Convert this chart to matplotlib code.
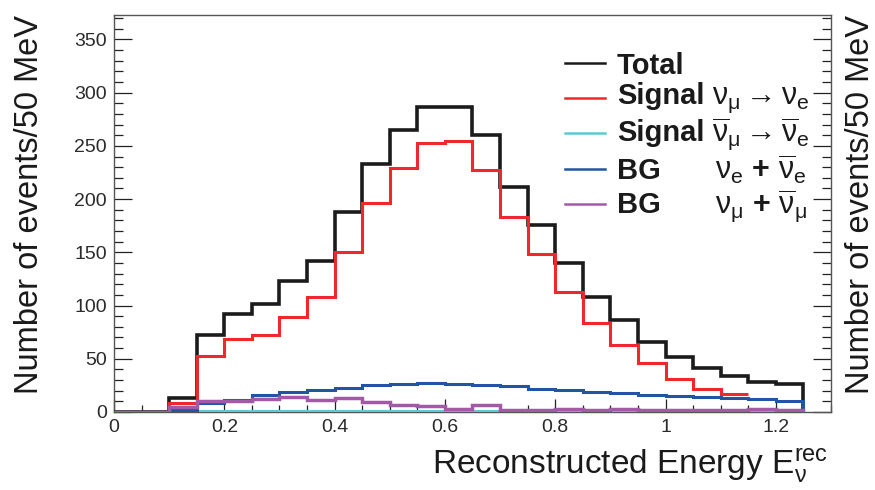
import numpy as np
import matplotlib
matplotlib.use('Agg')
from matplotlib import pyplot as plt
from matplotlib.ticker import MultipleLocator, FormatStrFormatter

plt.rcParams['font.family'] = ['Liberation Sans', 'DejaVu Sans']
plt.rcParams['mathtext.fontset'] = 'custom'
plt.rcParams['mathtext.rm'] = 'Liberation Sans'
plt.rcParams['mathtext.it'] = 'Liberation Sans:italic'
plt.rcParams['mathtext.bf'] = 'Liberation Sans:bold'

# 50 MeV bins, 0 - 1.25 GeV
bin_width = 0.05
edges = np.round(np.arange(0, 1.25 + bin_width / 2, bin_width), 3)

total = [0, 0, 13, 72, 92, 101, 123, 142, 188, 233, 265, 287, 287,
         260, 211, 176, 140, 108, 86, 66, 52, 41, 34, 28, 26]
# nu_mu -> nu_e signal stops at 1.15 GeV
sig_nue = [0, 0, 8, 53, 69, 72, 89, 108, 150, 196, 229, 253, 255,
           227, 183, 148, 113, 84, 63, 46, 31, 22, 17]
sig_nuebar = [0, 0, 0, 0.6, 0.6, 0.6, 0.6, 0.6, 0.6, 0.6, 0.6, 0.6, 0.6,
              0.6, 0.6, 0.6, 0.6, 0.6, 0.6, 0.6, 0.6, 0.6, 0.6, 0.6, 0.6]
bg_nue = [0, 0, 1.5, 8, 11, 15.5, 18.5, 21, 23, 25, 26.5, 27, 26,
          25, 24, 22, 20.5, 19, 17.5, 16, 15, 14, 13, 12, 10.5]
bg_numu = [0, 0, 4.5, 10.5, 10.5, 12.5, 14.5, 11.5, 13, 9.5, 7, 6, 3,
           6.5, 2, 2, 2.5, 1.5, 2.5, 1.5, 1.5, 1.5, 1.5, 2.5, 1.5]

c_total = '#1b1b1b'
c_sig = '#f0282d'
c_sigbar = '#5fc9d5'
c_bge = '#2155a3'
c_bgmu = '#a25aa6'

fig = plt.figure(figsize=(8.75, 4.9), dpi=100)
ax = fig.add_axes([0.1303, 0.1592, 0.8194, 0.8102])

ax.stairs(total, edges, baseline=0, color=c_total, lw=2.6, zorder=3)
ax.stairs(sig_nue, edges[:len(sig_nue) + 1], baseline=None, color=c_sig, lw=2.2, zorder=4)
ax.stairs(sig_nuebar, edges, baseline=0, color=c_sigbar, lw=2.2, zorder=5)
ax.stairs(bg_nue, edges, baseline=0, color=c_bge, lw=2.2, zorder=6)
ax.stairs(bg_numu, edges, baseline=0, color=c_bgmu, lw=2.5, zorder=7)

ax.set_xlim(0, 1.3)
ax.set_ylim(0, 373)
ax.xaxis.set_major_locator(MultipleLocator(0.2))
ax.xaxis.set_minor_locator(MultipleLocator(0.05))
ax.xaxis.set_major_formatter(FormatStrFormatter('%g'))
ax.yaxis.set_major_locator(MultipleLocator(50))
ax.yaxis.set_minor_locator(MultipleLocator(10))

ax.tick_params(axis='both', which='both', direction='in', width=0.9, labelsize=14, colors='#222222')
ax.tick_params(axis='y', which='major', length=13, right=True, pad=5)
ax.tick_params(axis='y', which='minor', length=6.5, right=True)
ax.tick_params(axis='x', which='major', length=9.5, pad=5)
ax.tick_params(axis='x', which='minor', length=5)
for tl in ax.get_xticklabels() + ax.get_yticklabels():
    tl.set_color('#2a2a2a')
for sp in ax.spines.values():
    sp.set_color('#555555')
    sp.set_linewidth(1.0)

# axis titles, ROOT style (aligned to the axis ends)
ylab = 'Number of events/50 MeV'
fig.text(0.034, 0.969, ylab, rotation=90, ha='center', va='top', fontsize=23.5, color='#1a1a1a')
fig.text(0.983, 0.969, ylab, rotation=90, ha='center', va='top', fontsize=23.5, color='#1a1a1a')
fig.text(0.946, 0.031, r'Reconstructed Energy $\mathrm{E}_{\mathrm{\nu}}^{\mathrm{rec}}$',
         ha='right', va='baseline', fontsize=24, color='#1a1a1a')

# legend block: line sample, bold name, channel
leg_colors = [c_total, c_sig, c_sigbar, c_bge, c_bgmu]
leg_names = ['Total', 'Signal', 'Signal', 'BG', 'BG']
leg_channels = [
    '',
    r'$\mathrm{\nu}_{\mathrm{\mu}} \rightarrow \mathrm{\nu}_{\mathrm{e}}$',
    r'$\overline{\mathrm{\nu}}_{\mathrm{\mu}} \rightarrow \overline{\mathrm{\nu}}_{\mathrm{e}}$',
    r'$\mathrm{\nu}_{\mathrm{e}}\ \mathbf{+}\ \overline{\mathrm{\nu}}_{\mathrm{e}}$',
    r'$\mathrm{\nu}_{\mathrm{\mu}}\ \mathbf{+}\ \overline{\mathrm{\nu}}_{\mathrm{\mu}}$',
]
line_y = [0.879, 0.791, 0.703, 0.612, 0.524]
text_y = [0.852, 0.776, 0.683, 0.587, 0.501]
chan_x = [0, 0.834, 0.834, 0.838, 0.838]
for col, name, chan, ly, ty, cx in zip(leg_colors, leg_names, leg_channels, line_y, text_y, chan_x):
    ax.plot([0.629, 0.685], [ly, ly], color=col, lw=1.8, transform=ax.transAxes, clip_on=False)
    ax.text(0.7015, ty, name, transform=ax.transAxes, fontsize=21, weight='bold',
            va='baseline', ha='left', color='#1a1a1a')
    if chan:
        ax.text(cx, ty, chan, transform=ax.transAxes, fontsize=22,
                va='baseline', ha='left', color='#1a1a1a')

fig.savefig('out.png', dpi=100)
